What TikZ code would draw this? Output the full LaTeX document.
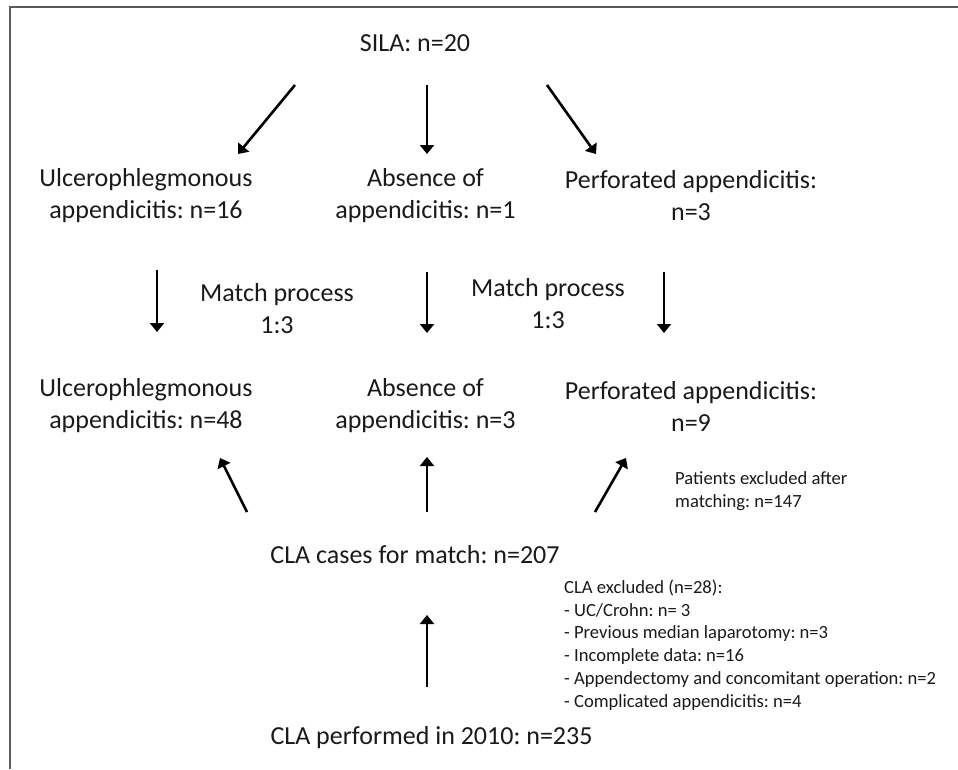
\documentclass[tikz,border=0pt]{standalone}
\usepackage{fontspec}
\setmainfont{Carlito}
\frenchspacing
\usetikzlibrary{arrows.meta,calc}
\definecolor{framegray}{HTML}{5A5A5A}
\definecolor{txt}{HTML}{1A1A1A}
\begin{document}
\begin{tikzpicture}[x=1pt,y=-1pt,
  big/.style={inner sep=0pt, align=center, text=txt, font=\fontsize{26}{32}\selectfont},
  small/.style={inner sep=0pt, align=left, anchor=west, text=txt, font=\fontsize{18.6}{22.8}\selectfont},
  arr/.style={line width=2.6pt, -{Triangle[length=9pt,width=14pt]}}]
\useasboundingbox (0,0) rectangle (958,769);
\draw[framegray, line width=2.2pt] (10,769) -- (10,7) -- (958,7);

\node[big] (sila) at (415,43) {SILA: n=20};
\node[big] (u1) at (146,196) {Ulcerophlegmonous\\appendicitis: n=16};
\node[big] (a1) at (425.5,196) {Absence of\\appendicitis: n=1};
\node[big] (p1) at (691,196) {Perforated appendicitis:\\n=3};
\node[big] (m1) at (277,309) {Match process\\1:3};
\node[big] (m2) at (548,304) {Match process\\1:3};
\node[big] (u2) at (146,406) {Ulcerophlegmonous\\appendicitis: n=48};
\node[big] (a2) at (425.5,406) {Absence of\\appendicitis: n=3};
\node[big] (p2) at (691,406) {Perforated appendicitis:\\n=9};
\node[small] (excl) at (675,491.5) {Patients excluded after\\matching: n=147};
\node[big] (cases) at (415,555) {CLA cases for match: n=207};
\node[small] (clax) at (564,645) {CLA excluded (n=28):\\- UC/Crohn: n= 3\\- Previous median laparotomy: n=3\\- Incomplete data: n=16\\- Appendectomy and concomitant operation: n=2\\- Complicated appendicitis: n=4};
\node[big] (perf) at (431.5,738) {CLA performed in 2010: n=235};

\draw[arr] ($(sila)+(-120,42)$) -- ($(u1)+(92,-42)$);
\draw[arr] ($(sila)+(12,42)$) -- ($(a1)+(1.5,-42)$);
\draw[arr] ($(sila)+(132,42)$) -- ($(p1)+(-95,-42)$);
\draw[arr] ($(u1)+(11,74)$) -- ($(u2)+(11,-74)$);
\draw[arr] ($(a1)+(1.5,76)$) -- ($(a2)+(1.5,-73)$);
\draw[arr] ($(p1)+(-27,76)$) -- ($(p2)+(-27,-73)$);
\draw[arr] ($(cases)+(-168,-43)$) -- ($(u2)+(74,52)$);
\draw[arr] ($(cases)+(12,-43)$) -- ($(a2)+(1.5,51)$);
\draw[arr] ($(cases)+(180,-43)$) -- ($(p2)+(-65,52)$);
\draw[arr] ($(perf)+(-4.5,-51)$) -- ($(cases)+(12,60)$);
\end{tikzpicture}
\end{document}
